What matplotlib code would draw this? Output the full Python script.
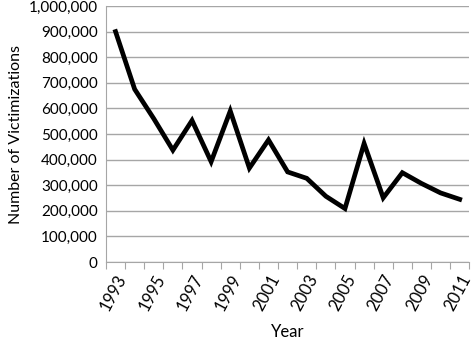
import numpy as np
import matplotlib.pyplot as plt
from matplotlib.ticker import FuncFormatter, FixedLocator

# values
years = list(range(1993, 2012))
victims = [900000, 675000, 560000, 437000, 553000, 392000, 590000, 367000,
           477000, 352000, 327000, 257000, 209000, 463000, 251000, 349000,
           307000, 270000, 245000]

plt.rcParams['font.family'] = ['Lato', 'DejaVu Sans']

fig = plt.figure(figsize=(4.74, 3.43), dpi=100)
ax = fig.add_axes([0.2236, 0.236, 0.7664, 0.7465])

x = np.arange(len(years))
ax.plot(x, victims, color='black', lw=3.4, solid_joinstyle='miter')

ax.set_xlim(-0.5, len(years) - 0.5)
ax.set_ylim(0, 1000000)
ax.set_yticks(np.arange(0, 1000001, 100000))
ax.yaxis.set_major_formatter(FuncFormatter(lambda v, p: f'{int(v):,}'))
ax.grid(axis='y', color='#a6a6a6', lw=1)
ax.set_axisbelow(True)

# category axis: ticks on boundaries, labels on every other year
ax.xaxis.set_major_locator(FixedLocator(np.arange(-0.5, len(years), 1)))
ax.set_xticklabels([])
ax.xaxis.set_minor_locator(FixedLocator(x[::2]))
ax.set_xticklabels([str(y) for y in years[::2]], minor=True,
                   rotation=62, ha='right', va='top', rotation_mode='anchor')
ax.tick_params(axis='x', which='major', length=5, color='#a6a6a6', direction='out')
ax.tick_params(axis='x', which='minor', length=0, pad=7, labelsize=12)
ax.tick_params(axis='y', length=0, pad=6, labelsize=11)

for s in ['top', 'right']:
    ax.spines[s].set_visible(False)
for s in ['left', 'bottom']:
    ax.spines[s].set_color('#a6a6a6')

ax.set_ylabel('Number of Victimizations', fontsize=11.5, labelpad=4)
ax.set_xlabel('Year', fontsize=12, labelpad=8)

fig.savefig('out.png', dpi=100)
